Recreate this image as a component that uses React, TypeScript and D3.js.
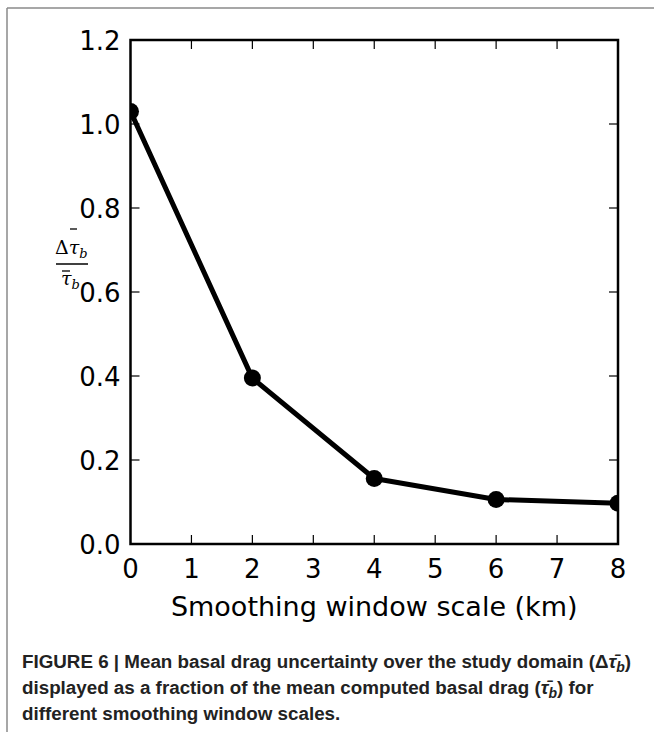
import React from "react";
import * as d3 from "d3";

const windowScales = [0, 2, 4, 6, 8];
const uncertainty = [1.03, 0.395, 0.156, 0.106, 0.097];
const xTicks = [0, 1, 2, 3, 4, 5, 6, 7, 8];
const yTicks = [0, 0.2, 0.4, 0.6, 0.8, 1.0, 1.2];
const xLabel = "Smoothing window scale (km)";
const captionLines = [
  ["FIGURE 6 | Mean basal drag uncertainty over the study domain (Δ", ")"],
  ["displayed as a fraction of the mean computed basal drag (", ") for"],
  ["different smoothing window scales.", ""],
];

const W = 654;
const H = 732;
const M = { left: 130.5, right: 618, top: 40, bottom: 544 };

export default function App() {
  const x = d3.scaleLinear().domain([0, 8]).range([M.left, M.right]);
  const y = d3.scaleLinear().domain([0, 1.2]).range([M.bottom, M.top]);
  const line = d3
    .line<number>()
    .x((_, i) => x(windowScales[i]))
    .y((d) => y(d));
  const tickLen = 9;
  const font = "DejaVu Sans, sans-serif";
  const capFont = "'Liberation Sans Narrow', 'Liberation Sans', Arial, sans-serif";
  return (
    <svg
      width={W}
      height={H}
      style={{ position: "absolute", left: 0, top: 0, background: "#fff" }}
    >
      {/* figure frame */}
      <line x1={7} y1={8} x2={W} y2={8} stroke="#8a8a8a" strokeWidth={1.5} />
      <line x1={7} y1={8} x2={7} y2={H} stroke="#8a8a8a" strokeWidth={1.5} />

      <defs>
        <clipPath id="plotclip">
          <rect x={M.left} y={M.top} width={M.right - M.left} height={M.bottom - M.top} />
        </clipPath>
      </defs>

      {/* data */}
      <g clipPath="url(#plotclip)">
        <path d={line(uncertainty) || ""} fill="none" stroke="#000" strokeWidth={5} strokeLinejoin="round" />
        {uncertainty.map((v, i) => (
          <circle key={i} cx={x(windowScales[i])} cy={y(v)} r={8.5} fill="#000" />
        ))}
      </g>

      {/* ticks */}
      {xTicks.slice(1, -1).map((t) => (
        <g key={"xt" + t}>
          <line x1={x(t)} x2={x(t)} y1={M.bottom} y2={M.bottom - tickLen} stroke="#000" strokeWidth={1.2} />
          <line x1={x(t)} x2={x(t)} y1={M.top} y2={M.top + tickLen} stroke="#000" strokeWidth={1.2} />
        </g>
      ))}
      {yTicks.slice(1, -1).map((t) => (
        <g key={"yt" + t}>
          <line x1={M.left} x2={M.left + tickLen} y1={y(t)} y2={y(t)} stroke="#000" strokeWidth={1.2} />
          <line x1={M.right} x2={M.right - tickLen} y1={y(t)} y2={y(t)} stroke="#000" strokeWidth={1.2} />
        </g>
      ))}

      {/* frame of axes */}
      <rect
        x={M.left}
        y={M.top}
        width={M.right - M.left}
        height={M.bottom - M.top}
        fill="none"
        stroke="#000"
        strokeWidth={2.5}
      />

      {/* tick labels */}
      {xTicks.map((t) => (
        <text key={"xl" + t} x={x(t)} y={M.bottom + 34} textAnchor="middle" fontFamily={font} fontSize={26} fill="#000">
          {t}
        </text>
      ))}
      {yTicks.map((t) => (
        <text key={"yl" + t} x={M.left - 10} y={y(t) + 9.5} textAnchor="end" fontFamily={font} fontSize={26} fill="#000">
          {t.toFixed(1)}
        </text>
      ))}

      {/* x label */}
      <text x={(M.left + M.right) / 2} y={M.bottom + 72} textAnchor="middle" fontFamily={font} fontSize={27} fill="#000">
        {xLabel}
      </text>

      {/* y label fraction */}
      <g fontFamily="'DejaVu Serif', serif" fill="#000">
        <text x={55} y={254} fontSize={19}>
          <tspan>Δ</tspan>
          <tspan fontStyle="italic">τ</tspan>
          <tspan fontStyle="italic" fontSize={13} dy={4}>b</tspan>
        </text>
        <line x1={70} x2={77} y1={229} y2={229} stroke="#000" strokeWidth={1.3} />
        <line x1={56} x2={88} y1={264} y2={264} stroke="#000" strokeWidth={1.5} />
        <text x={61} y={285} fontSize={19}>
          <tspan fontStyle="italic">τ</tspan>
          <tspan fontStyle="italic" fontSize={13} dy={4}>b</tspan>
        </text>
        <line x1={62} x2={70} y1={271} y2={271} stroke="#000" strokeWidth={1.3} />
      </g>

      {/* caption */}
      <g fontFamily={capFont} fontWeight="bold" fontSize={18.8} fill="#222">
        <text x={22} y={668}>
          <tspan>{captionLines[0][0]}</tspan>
          <tspan fontStyle="italic">τ̄</tspan>
          <tspan fontStyle="italic" fontSize={14} dy={4}>b</tspan>
          <tspan dy={-4}>{captionLines[0][1]}</tspan>
        </text>
        <text x={22} y={694}>
          <tspan>{captionLines[1][0]}</tspan>
          <tspan fontStyle="italic">τ̄</tspan>
          <tspan fontStyle="italic" fontSize={14} dy={4}>b</tspan>
          <tspan dy={-4}>{captionLines[1][1]}</tspan>
        </text>
        <text x={22} y={720}>
          {captionLines[2][0]}
        </text>
      </g>
    </svg>
  );
}
